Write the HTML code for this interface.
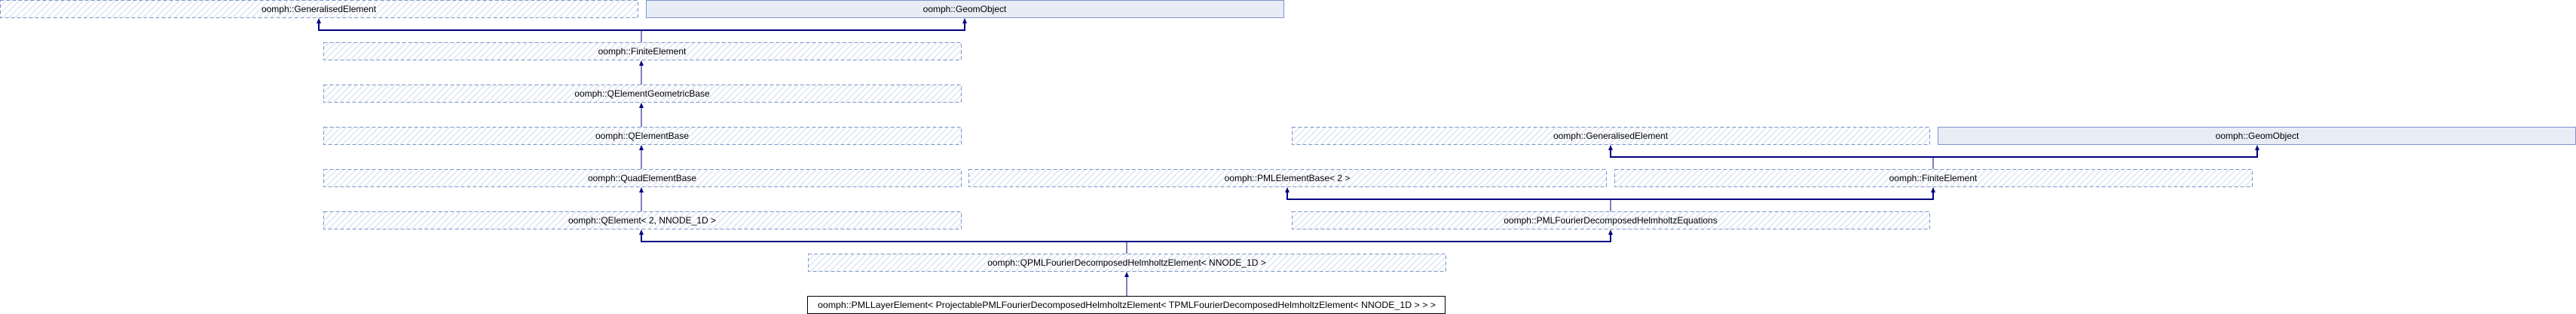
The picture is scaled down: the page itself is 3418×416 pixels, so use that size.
<!DOCTYPE html>
<html><head><meta charset="utf-8"><style>
html,body{margin:0;padding:0;background:#fff;}
svg{display:block;}
text{font-family:"Liberation Sans",sans-serif;font-size:12px;fill:#000;}
</style></head><body>
<svg width="3418" height="416" viewBox="0 0 3418 416" xmlns="http://www.w3.org/2000/svg">
<defs>
<pattern id="h" width="6" height="6" patternUnits="userSpaceOnUse" patternTransform="rotate(45)">
<rect width="6" height="6" fill="#fff"/>
<rect width="1.5" height="6" fill="#dfe5f2"/>
</pattern>
</defs>
<g stroke="#7c95c8" stroke-width="1" stroke-dasharray="5,3" fill="url(#h)">
<rect x="0.5" y="0.5" width="846" height="23"/>
<rect x="429.5" y="56.5" width="846" height="23"/>
<rect x="429.5" y="112.5" width="846" height="23"/>
<rect x="429.5" y="168.5" width="846" height="23"/>
<rect x="429.5" y="224.5" width="846" height="23"/>
<rect x="429.5" y="280.5" width="846" height="23"/>
<rect x="1072.5" y="336.5" width="846" height="23"/>
<rect x="1714.5" y="168.5" width="846" height="23"/>
<rect x="1285.5" y="224.5" width="846" height="23"/>
<rect x="2142.5" y="224.5" width="846" height="23"/>
<rect x="1714.5" y="280.5" width="846" height="23"/>
</g>
<g stroke="#7c95c8" stroke-width="1" fill="#e8ecf5">
<rect x="857.5" y="0.5" width="846" height="23"/>
<rect x="2571.5" y="168.5" width="846" height="23"/>
</g>
<rect x="1071.5" y="392.5" width="846" height="23" fill="#fff" stroke="#000" stroke-width="1"/>
<g text-anchor="middle">
<text x="423" y="16">oomph::GeneralisedElement</text>
<text x="1280" y="16">oomph::GeomObject</text>
<text x="852" y="72">oomph::FiniteElement</text>
<text x="852" y="128">oomph::QElementGeometricBase</text>
<text x="852" y="184">oomph::QElementBase</text>
<text x="852" y="240">oomph::QuadElementBase</text>
<text x="852" y="296">oomph::QElement&lt; 2, NNODE_1D &gt;</text>
<text x="1495" y="352">oomph::QPMLFourierDecomposedHelmholtzElement&lt; NNODE_1D &gt;</text>
<text x="1495" y="408" textLength="820" lengthAdjust="spacingAndGlyphs">oomph::PMLLayerElement&lt; ProjectablePMLFourierDecomposedHelmholtzElement&lt; TPMLFourierDecomposedHelmholtzElement&lt; NNODE_1D &gt; &gt; &gt;</text>
<text x="2137" y="184">oomph::GeneralisedElement</text>
<text x="2995" y="184">oomph::GeomObject</text>
<text x="1708" y="240">oomph::PMLElementBase&lt; 2 &gt;</text>
<text x="2565" y="240">oomph::FiniteElement</text>
<text x="2137" y="296">oomph::PMLFourierDecomposedHelmholtzEquations</text>
</g>
<g stroke="#000080" fill="none">
<path d="M851 56V40" stroke-width="1"/>
<path d="M423 29V40H1280V29" stroke-width="2"/>
<path d="M851 112V85M851 168V141M851 224V197M851 280V253"/>
<path d="M1495 336V320"/>
<path d="M851 309V320H2137V309" stroke-width="2"/>
<path d="M1495 392V365"/>
<path d="M2137 280V264"/>
<path d="M1708 253V264H2565V253" stroke-width="2"/>
<path d="M2565 224V208"/>
<path d="M2137 197V208H2995V197" stroke-width="2"/>
</g>
<g fill="#000080">
<path d="M423 24l-3 7h6z"/>
<path d="M1280 24l-3 7h6z"/>
<path d="M851 80l-3 7h6z"/>
<path d="M851 136l-3 7h6z"/>
<path d="M851 192l-3 7h6z"/>
<path d="M851 248l-3 7h6z"/>
<path d="M851 304l-3 7h6z"/>
<path d="M2137 304l-3 7h6z"/>
<path d="M1495 360l-3 7h6z"/>
<path d="M1708 248l-3 7h6z"/>
<path d="M2565 248l-3 7h6z"/>
<path d="M2137 192l-3 7h6z"/>
<path d="M2995 192l-3 7h6z"/>
</g>
</svg>
</body></html>
